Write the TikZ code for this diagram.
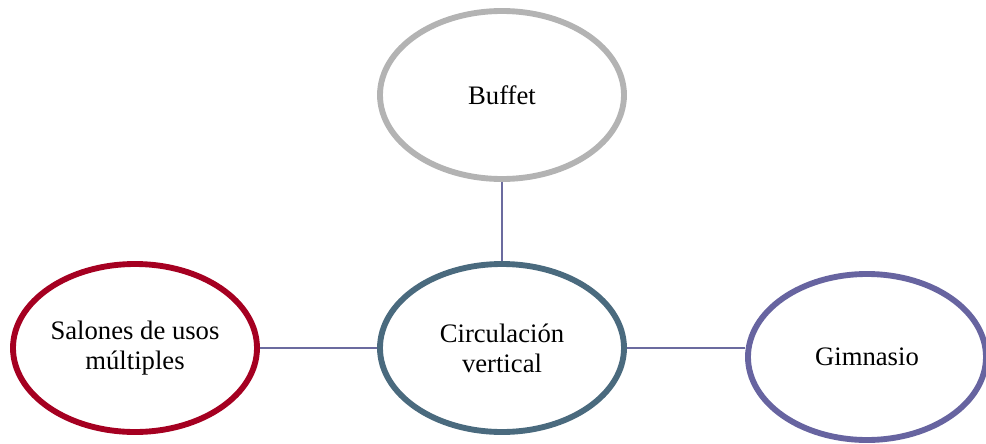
\documentclass[tikz,border=0pt]{standalone}
\usepackage{fontspec}
\setmainfont{Liberation Serif}
\usetikzlibrary{shapes.geometric}
\definecolor{cgray}{HTML}{B3B3B3}
\definecolor{cteal}{HTML}{4A6A7E}
\definecolor{cred}{HTML}{A50021}
\definecolor{cpurple}{HTML}{6764A0}
\definecolor{cline}{HTML}{6B6B9F}
\begin{document}
\begin{tikzpicture}[x=0.75pt,y=-0.75pt,
  bubble/.style={ellipse,draw,line width=4.4pt,fill=white,align=center,
    minimum width=183pt,minimum height=126pt,inner sep=0pt,
    font=\fontsize{20}{22.5}\selectfont},
  link/.style={draw=cline,line width=1.1pt}]
\useasboundingbox (0,0) rectangle (986,443);
\clip (0,0) rectangle (986,443);
\node[bubble,draw=cgray] (buf) at (502,95) {Buffet};
\node[bubble,draw=cteal] (circ) at (502,348) {Circulación\\vertical};
\node[bubble,draw=cred] (sal) at (135,348) {Salones de usos\\múltiples};
\node[bubble,draw=cpurple,minimum width=178.5pt,minimum height=124.5pt] (gim) at (867,357) {Gimnasio};
\draw[link] (buf.south) -- (circ.north);
\draw[link] (sal.east) -- (circ.west);
\draw[link] (circ.east) -- (circ.east -| gim.west);
\end{tikzpicture}
\end{document}
